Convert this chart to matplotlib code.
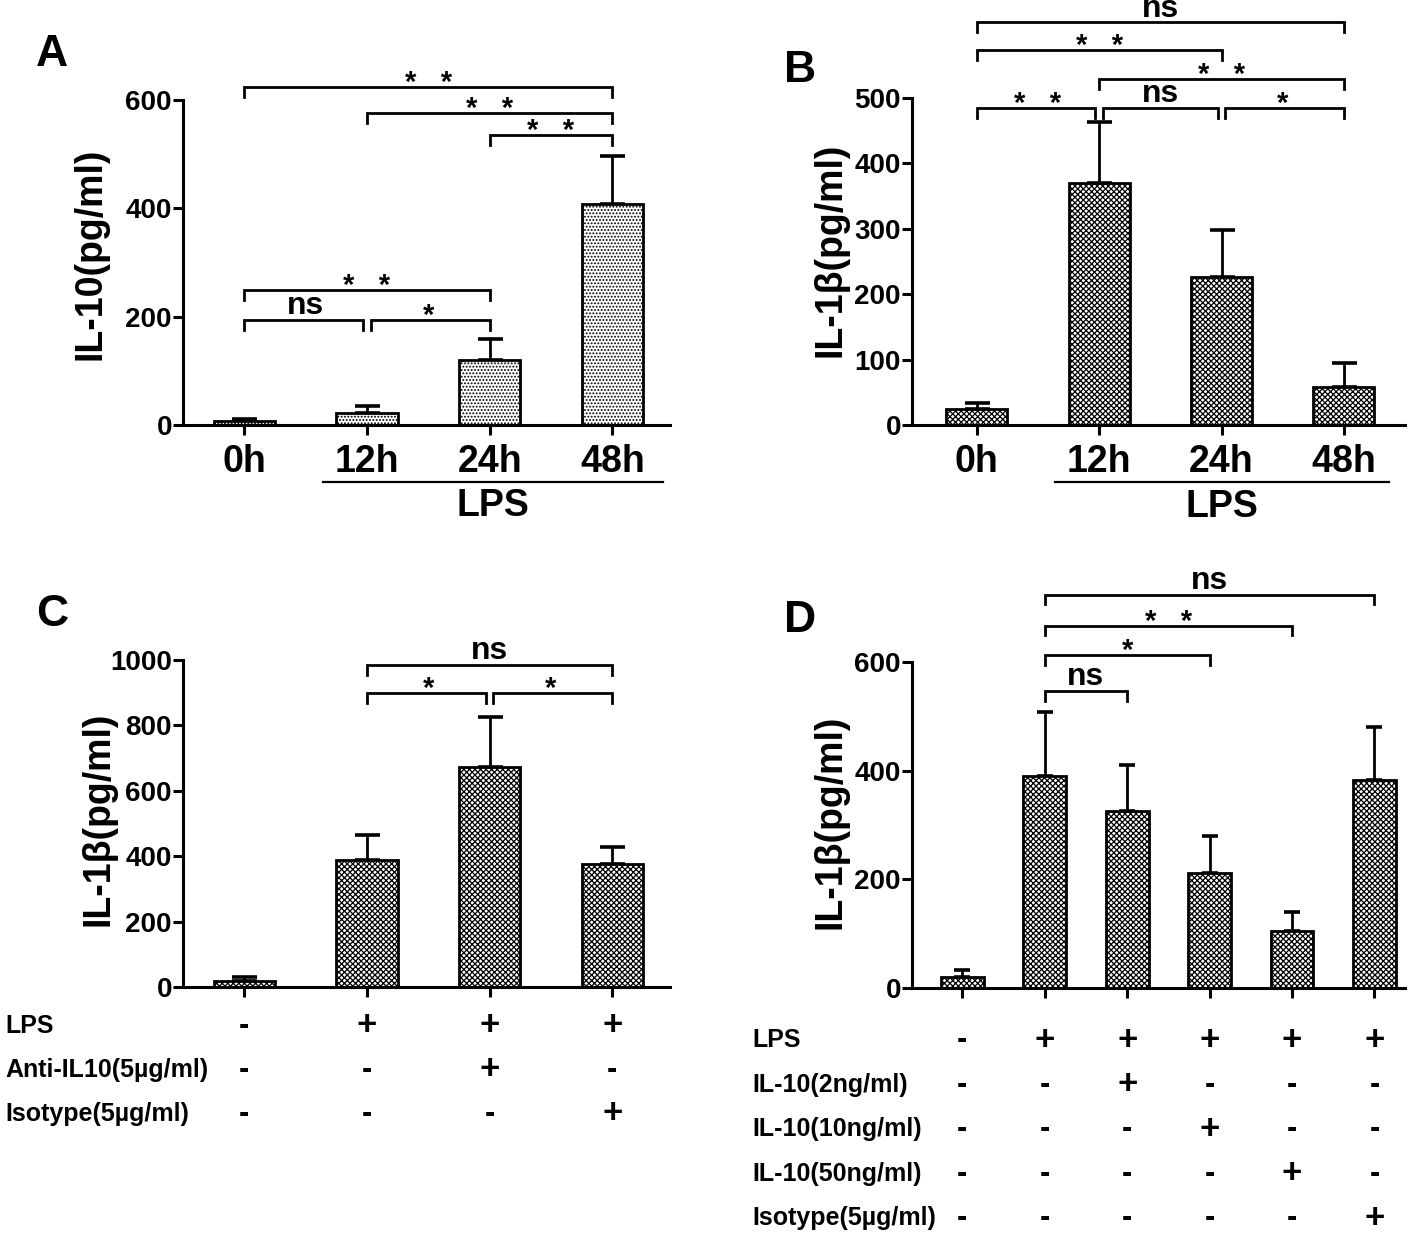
import numpy as np
import matplotlib
matplotlib.use("Agg")
from matplotlib import pyplot as plt
from matplotlib.transforms import blended_transform_factory

plt.rcParams.update({
    "font.family": ["Liberation Sans", "DejaVu Sans"],
    "font.weight": "bold",
    "hatch.linewidth": 0.9,
    "axes.linewidth": 2.2,
})

# ---- data ----
a_groups = ["0h", "12h", "24h", "48h"]
a_mean = [8, 22, 120, 408]
a_err = [4, 13, 38, 89]
a_sig = [(0, 3, 624, "**"), (1, 3, 576, "**"), (2, 3, 535, "**"),
         (0, 2, 249, "**"), (0, 1, 194, "ns"), (1, 2, 194, "*")]

b_groups = ["0h", "12h", "24h", "48h"]
b_mean = [24, 370, 226, 58]
b_err = [10, 93, 72, 37]
b_sig = [(0, 3, 616, "ns"), (0, 2, 573, "**"), (1, 3, 529, "**"),
         (0, 1, 485, "**"), (1, 2, 485, "ns"), (2, 3, 485, "*")]

c_mean = [18, 388, 673, 376]
c_err = [12, 76, 152, 52]
c_sig = [(1, 3, 985, "ns"), (1, 2, 899, "*"), (2, 3, 899, "*")]
c_rows = ["LPS", "Anti-IL10(5\u00b5g/ml)", "Isotype(5\u00b5g/ml)"]
c_table = [["-", "+", "+", "+"],
           ["-", "-", "+", "-"],
           ["-", "-", "-", "+"]]

d_mean = [20, 390, 326, 212, 105, 383]
d_err = [13, 118, 85, 68, 35, 98]
d_sig = [(1, 5, 724, "ns"), (1, 4, 667, "**"), (1, 3, 613, "*"), (1, 2, 547, "ns")]
d_rows = ["LPS", "IL-10(2ng/ml)", "IL-10(10ng/ml)", "IL-10(50ng/ml)", "Isotype(5\u00b5g/ml)"]
d_table = [["-", "+", "+", "+", "+", "+"],
           ["-", "-", "+", "-", "-", "-"],
           ["-", "-", "-", "+", "-", "-"],
           ["-", "-", "-", "-", "+", "-"],
           ["-", "-", "-", "-", "-", "+"]]

fig = plt.figure(figsize=(14.18, 12.35), dpi=100)
W, H = 1418, 1235


def make_axes(left, right, top, bottom):
    return fig.add_axes([left / W, 1 - bottom / H, (right - left) / W, (bottom - top) / H])


def draw_bars(ax, mean, err, width, hatch, ymax, yticks, xlim, capsize):
    x = np.arange(len(mean))
    ax.bar(x, mean, width=width, color="white", edgecolor="black", lw=2.0,
           hatch=hatch, zorder=2)
    ax.errorbar(x, mean, yerr=[np.zeros(len(err)), err], fmt="none", ecolor="black",
                elinewidth=2.0, capsize=capsize, capthick=2.6, zorder=1)
    ax.set_xlim(*xlim)
    ax.set_ylim(0, ymax)
    ax.set_yticks(yticks)
    ax.set_xticks(x)
    ax.spines[["top", "right"]].set_visible(False)
    ax.tick_params(axis="y", length=7, width=2.2, labelsize=20, pad=1)
    ax.tick_params(axis="x", length=7, width=2.2, labelsize=27, pad=7)
    for lab in ax.get_yticklabels():
        lab.set_fontweight("bold")


def draw_sig(ax, sig, ymax):
    drop = 0.03 * ymax
    ends = {}
    for i, j, y, _ in sig:
        ends.setdefault(y, []).append((i, j))
    for i, j, y, label in sig:
        same = ends[y]
        x1 = i + (0.03 if any(b == i for _, b in same) else 0)
        x2 = j - (0.03 if any(a == j for a, _ in same) else 0)
        ax.plot([x1, x1, x2, x2], [y - drop, y, y, y - drop], color="black",
                lw=2.0, clip_on=False, solid_joinstyle="miter")
        if label == "ns":
            ax.annotate(label, xy=((i + j) / 2, y), xytext=(0, -1),
                        textcoords="offset points", ha="center", va="bottom",
                        fontsize=23, fontweight="bold", annotation_clip=False)
        else:
            ax.annotate("   ".join(label), xy=((i + j) / 2, y), xytext=(0, -3),
                        textcoords="offset points", ha="center", va="baseline",
                        fontsize=21, fontweight="bold", annotation_clip=False)


def lps_bar(ax, x1, x2):
    tr = ax.get_xaxis_transform()
    ax.plot([x1, x2], [-0.175, -0.175], color="black", lw=1.6, transform=tr, clip_on=False)
    ax.text((x1 + x2) / 2, -0.195, "LPS", transform=tr, ha="center", va="top",
            fontsize=27, fontweight="bold")


def sign_table(ax, rows, table, label_x, y0, dy):
    tr = ax.get_xaxis_transform()
    tr_label = blended_transform_factory(fig.transFigure, ax.transAxes)
    for r, (name, row) in enumerate(zip(rows, table)):
        yy = y0 - r * dy
        ax.text(label_x, yy, name, transform=tr_label, ha="left", va="center",
                fontsize=18, fontweight="bold")
        for k, s in enumerate(row):
            ax.text(k, yy, s, transform=tr, ha="center", va="center",
                    fontsize=25 if s == "+" else 22, fontweight="bold")


def fix_ylabel(ax, text, x, y):
    ax.set_ylabel(text, fontsize=27, fontweight="bold")
    ax.yaxis.set_label_coords(x, y)


# ---- A ----
ax_a = make_axes(183, 670, 100, 425)
draw_bars(ax_a, a_mean, a_err, 0.5, ".....", 600, [0, 200, 400, 600], (-0.5, 3.47), 9)
ax_a.set_xticklabels(a_groups, fontweight="bold")
fix_ylabel(ax_a, "IL-10(pg/ml)", -0.152, 0.526)
draw_sig(ax_a, a_sig, 600)
lps_bar(ax_a, 0.64, 3.41)

# ---- B ----
ax_b = make_axes(912, 1405, 98, 425)
draw_bars(ax_b, b_mean, b_err, 0.5, "xxxxxx", 500, [0, 100, 200, 300, 400, 500], (-0.53, 3.5), 9)
ax_b.set_xticklabels(b_groups, fontweight="bold")
fix_ylabel(ax_b, "IL-1\u03b2(pg/ml)", -0.128, 0.535)
draw_sig(ax_b, b_sig, 500)
lps_bar(ax_b, 0.64, 3.37)

# ---- C ----
ax_c = make_axes(183, 670, 660, 987)
draw_bars(ax_c, c_mean, c_err, 0.5, "xxxxxx", 1000, [0, 200, 400, 600, 800, 1000], (-0.5, 3.47), 9)
ax_c.set_xticklabels([])
fix_ylabel(ax_c, "IL-1\u03b2(pg/ml)", -0.136, 0.514)
draw_sig(ax_c, c_sig, 1000)
sign_table(ax_c, c_rows, c_table, 5 / W, -0.118, 0.1345)

# ---- D ----
ax_d = make_axes(912, 1405, 662, 988)
draw_bars(ax_d, d_mean, d_err, 0.52, "xxxxxx", 600, [0, 200, 400, 600], (-0.61, 5.37), 5.5)
ax_d.set_xticklabels([])
fix_ylabel(ax_d, "IL-1\u03b2(pg/ml)", -0.128, 0.51)
draw_sig(ax_d, d_sig, 600)
sign_table(ax_d, d_rows, d_table, 752 / W, -0.16, 0.1365)

# panel letters
for letter, (px, py) in zip("ABCD", [(52, 55), (800, 70), (52, 615), (800, 620)]):
    fig.text(px / W, 1 - py / H, letter, fontsize=32, fontweight="bold", ha="center", va="center")

fig.savefig("out.png", dpi=100)
plt.close(fig)
